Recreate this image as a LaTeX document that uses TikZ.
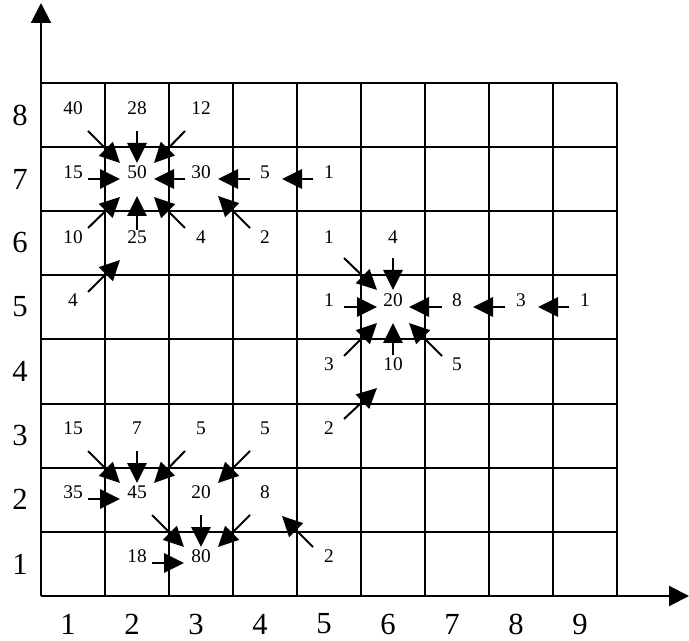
\documentclass[tikz,border=0pt]{standalone}
\usepackage{fontspec}
\setmainfont{Liberation Serif}
\usetikzlibrary{arrows.meta}
\begin{document}
\begin{tikzpicture}[x=0.75pt,y=-0.75pt,
  gridline/.style={line width=1.5pt},
  flow/.style={line width=1.5pt,-{Triangle[length=15pt,width=14.5pt]}},
  axisline/.style={line width=1.5pt,-{Triangle[length=15pt,width=15pt]}},
  num/.style={font=\fontsize{14.5}{16}\selectfont, inner sep=0pt},
  lab/.style={font=\fontsize{23}{26}\selectfont, inner sep=0pt}]
\useasboundingbox (0,0) rectangle (689,641);
% grid
\foreach \i in {0,...,9} \draw[gridline] ({41+64*\i},83) -- ({41+64*\i},596);
\foreach \j in {0,...,8} \draw[gridline] (41,{83+64.125*\j}) -- (617,{83+64.125*\j});
% axes
\coordinate (O) at (41,596);
\coordinate (ytop) at (41,3);
\coordinate (xend) at (689,596);
\draw[axisline] (O) -- (ytop);
\draw[axisline] (O) -- (xend);
% axis labels
\foreach \k/\y in {8/115,7/179,6/243,5/307,4/371,3/435,2/499,1/564}
  \node[lab] (y\k) at (20,\y) {\k};
\foreach \k in {1,...,9}
  \node[lab] (x\k) at ({68+64*(\k-1)},624) {\k};
% cell numbers
\foreach \n/\x/\y/\t in {
  a/73/108/40, b/137/108/28, c/201/108/12,
  d/73/172/15, e/137/172/50, f/201/172/30, g/265/172/5, h/329/172/1,
  i/73/237/10, j/137/237/25, k/201/237/4, l/265/237/2, m/329/237/1, n/393/237/4,
  o/73/300/4, p/329/300/1, q/393/300/20, r/457/300/8, s/521/300/3, t/585/300/1,
  u/329/364/3, v/393/364/10, w/457/364/5,
  aa/73/428/15, ab/137/428/7, ac/201/428/5, ad/265/428/5, ae/329/428/2,
  af/73/492/35, ag/137/492/45, ah/201/492/20, ai/265/492/8,
  aj/137/556/18, ak/201/556/80, al/329/556/2}
  \node[num] (n\n) at (\x,\y) {\t};
% arrows
\foreach \n/\ax/\ay/\bx/\by in {
  1/88/131/120/163, 2/137/131/137/163, 3/185/131/154/163,
  4/88/179/120/179, 5/185/179/154/179,
  6/88/228/120/197, 7/137/230/137/196, 8/185/228/154/197,
  9/250/179/218/179, 10/313/179/282/179, 11/250/228/218/196,
  12/88/292/120/260,
  13/344/258/377/290, 14/393/258/393/290,
  15/344/307/377/307, 16/442/307/409/307, 17/505/307/473/307, 18/569/307/538/307,
  19/344/356/377/323, 20/393/355/393/323, 21/442/356/409/323,
  22/344/419/377/388,
  23/88/451/120/483, 24/137/451/137/483, 25/185/451/154/483, 26/250/451/218/483,
  27/88/499/120/499,
  28/152/515/184/547, 29/201/515/201/547, 30/250/515/218/547,
  31/152/563/184/563, 32/313/547/282/516}
{
  \coordinate (t\n) at (\ax,\ay);
  \coordinate (h\n) at (\bx,\by);
  \draw[flow] (t\n) -- (h\n);
}
\end{tikzpicture}
\end{document}
